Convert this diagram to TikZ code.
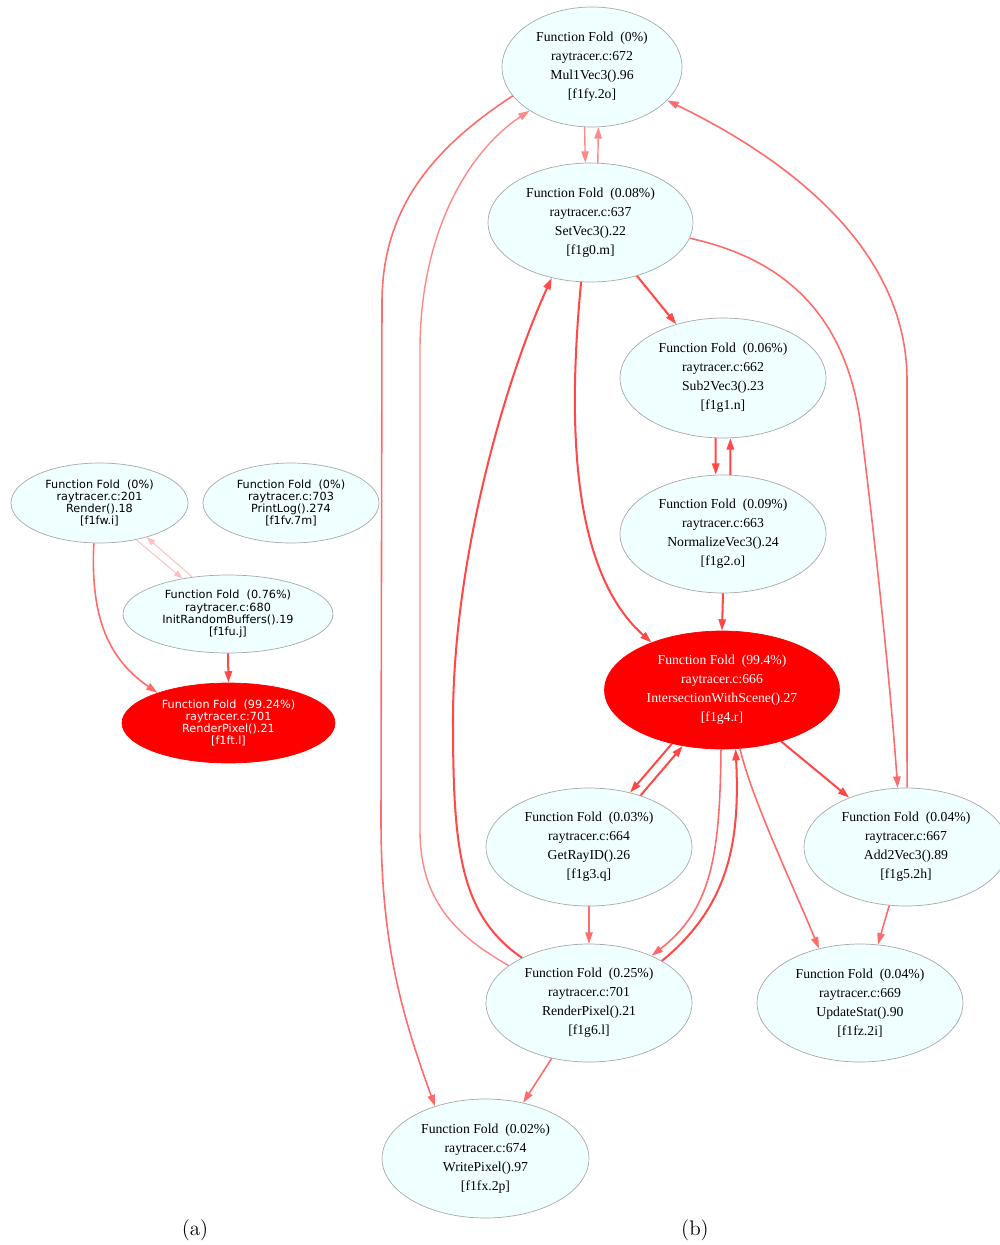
\documentclass[tikz,border=0pt]{standalone}
\usepackage{fontspec}
\newfontfamily\timesfont{Liberation Serif}
\newfontfamily\dejafont{DejaVu Sans}
\usepackage{tikz}
\usetikzlibrary{shapes.geometric,arrows.meta}
\definecolor{nodefill}{HTML}{F0FFFF}
\definecolor{nodeline}{HTML}{A8A8A8}
\definecolor{hotred}{HTML}{FF0000}
\definecolor{edgehot}{HTML}{FF4848}
\definecolor{edgewarm}{HTML}{FF6A6A}
\definecolor{edgecool}{HTML}{FF8888}
\definecolor{edgefaint}{HTML}{FFBEBE}
% one fold node: percentage, line, function, id
\newcommand{\ffold}[4]{Function Fold~~(#1\%)\\raytracer.c:#2\\#3\\{[#4]}}
\tikzset{
  fnA/.style={ ellipse, draw=nodeline, fill=nodefill, inner sep=0pt, align=center,
    font=\dejafont\fontsize{6.4}{6.9}\selectfont, minimum width=3.54cm, minimum height=1.6cm }
}
\tikzset{
  fnB/.style={ ellipse, draw=nodeline, fill=nodefill, inner sep=0pt, align=center,
    font=\timesfont\fontsize{7.8}{10.8}\selectfont, minimum width=4.12cm, minimum height=2.36cm }
}
\tikzset{
  hotfold/.style={ draw=hotred, fill=hotred, text=white }
}
\tikzset{
  callhot/.style={ draw=edgehot, line width=1.15pt, -{Triangle[length=6.5pt,width=4.2pt]} }
}
\tikzset{
  callwarm/.style={ draw=edgewarm, line width=0.9pt, -{Triangle[length=6.5pt,width=4.2pt]} }
}
\tikzset{
  callcool/.style={ draw=edgecool, line width=0.8pt, -{Triangle[length=6.5pt,width=4.2pt]} }
}
\tikzset{
  callfaint/.style={ draw=edgefaint, line width=0.55pt, -{Triangle[length=5pt,width=3.4pt]} }
}
\begin{document}
\begin{tikzpicture}[x=0.02cm, y=-0.02cm]
      \useasboundingbox (0,0) rectangle (1000,1245);
      % (a)
      \node[fnA] (fw) at (99.5, 503) {\ffold{0}{201}{Render().18}{f1fw.i}};
      \node[fnA, minimum width=3.52cm] (fv) at (291, 503) {\ffold{0}{703}{PrintLog().274}{f1fv.7m}};
      \node[fnA, minimum width=4.2cm, minimum height=1.56cm] (fu) at (228, 614) {\ffold{0.76}{680}{InitRandomBuffers().19}{f1fu.j}};
      \node[fnA, hotfold, minimum width=4.26cm] (ft) at (228.5, 723) {\ffold{99.24}{701}{RenderPixel().21}{f1ft.l}};
      \draw[callwarm] (fw.262) .. controls (90, 620) and (110, 660) .. (ft.157);
      \draw[callfaint] (fw.315) -- (fu.142);
      \draw[callfaint] (fu.134) -- (fw.324);
      \draw[callhot] (fu.south) -- (ft.north);
      % (b)
      \node[fnB, minimum width=3.6cm, minimum height=2.4cm] (fy) at (592, 67) {\ffold{0}{672}{Mul1Vec3().96}{f1fy.2o}};
      \node[fnB, minimum width=4.1cm, minimum height=2.38cm] (g0) at (590.5, 222.5) {\ffold{0.08}{637}{SetVec3().22}{f1g0.m}};
      \node[fnB, minimum height=2.4cm] (g1) at (723, 378) {\ffold{0.06}{662}{Sub2Vec3().23}{f1g1.n}};
      \node[fnB] (g2) at (723, 534) {\ffold{0.09}{663}{NormalizeVec3().24}{f1g2.o}};
      \node[fnB, hotfold, minimum width=4.7cm] (g4) at (722, 690) {\ffold{99.4}{666}{IntersectionWithScene().27}{f1g4.r}};
      \node[fnB] (g3) at (589, 847) {\ffold{0.03}{664}{GetRayID().26}{f1g3.q}};
      \node[fnB, minimum width=4.08cm] (g5) at (906, 847) {\ffold{0.04}{667}{Add2Vec3().89}{f1g5.2h}};
      \node[fnB] (g6) at (589, 1003) {\ffold{0.25}{701}{RenderPixel().21}{f1g6.l}};
      \node[fnB] (fz) at (860, 1003) {\ffold{0.04}{669}{UpdateStat().90}{f1fz.2i}};
      \node[fnB, minimum width=4.14cm, minimum height=2.38cm] (fx) at (485.5, 1158.5) {\ffold{0.02}{674}{WritePixel().97}{f1fx.2p}};
      \draw[callcool] (fy.263) -- (g0.95);
      \draw[callcool] (g0.83) -- (fy.276);
      \draw[callwarm] (fy.200) .. controls (430, 150) and (383, 210) .. (382, 300) -- (381, 820)
        .. controls (381, 940) and (400, 1010) .. (fx.134);
      \draw[callcool] (g6.155) .. controls (455, 935) and (420, 900) .. (420, 830) -- (420, 350)
        .. controls (420, 230) and (470, 150) .. (fy.215);
      \draw[callhot] (g6.146) .. controls (460, 915) and (453, 850) .. (453, 720)
        .. controls (453, 560) and (505, 380) .. (g0.235);
      \draw[callhot] (g0.261) .. controls (568, 420) and (570, 570) .. (g4.146);
      \draw[callhot] (g0.311) -- (g1.131);
      \draw[callwarm] (g0.351) .. controls (790, 260) and (845, 320) .. (860, 420)
        .. controls (875, 540) and (890, 680) .. (g5.98);
      \draw[callwarm] (g5.89) -- (907, 380) .. controls (907, 250) and (790, 160) .. (fy.336);
      \draw[callhot] (g1.263) -- (g2.97);
      \draw[callhot] (g2.83) -- (g1.277);
      \draw[callhot] (g2.south) -- (g4.north);
      \draw[callhot] (g4.227) -- (g3.53);
      \draw[callhot] (g3.45) -- (g4.235);
      \draw[callhot] (g4.319) -- (g5.139);
      \draw[callwarm] (g4.269) .. controls (720, 860) and (710, 910) .. (g6.37);
      \draw[callhot] (g6.30) .. controls (730, 905) and (740, 840) .. (g4.283);
      \draw[callwarm] (g4.287) .. controls (752, 800) and (795, 890) .. (fz.127);
      \draw[callwarm] (g3.south) -- (g6.north);
      \draw[callwarm] (g5.254) -- (fz.73);
      \draw[callwarm] (g6.236) -- (fx.56);
      \node[font=\fontsize{12}{14}\selectfont] (capa) at (195, 1230) {(a)};
      \node[font=\fontsize{12}{14}\selectfont] (capb) at (695, 1230) {(b)};
    \end{tikzpicture}
\end{document}
